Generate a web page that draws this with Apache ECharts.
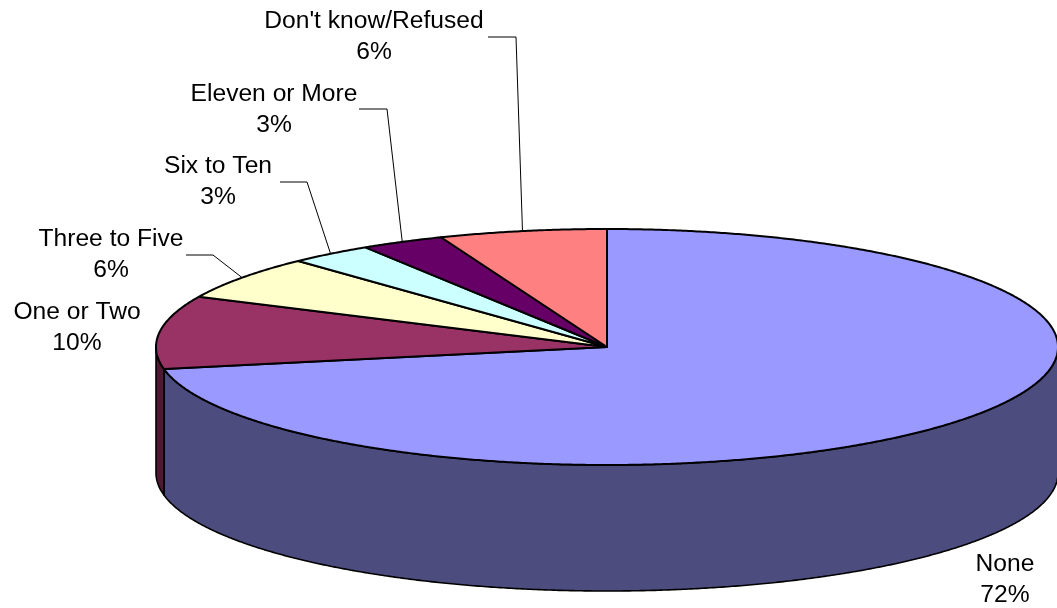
<!DOCTYPE html>
<html>
<head>
<meta charset="utf-8">
<script src="https://cdn.jsdelivr.net/npm/echarts@6/dist/echarts.min.js"></script>
<style>
  html, body { margin: 0; padding: 0; background: #ffffff; }
  #chart { width: 1057px; height: 608px; }
</style>
</head>
<body>
<div id="chart"></div>
<script>
// Number of answers given, share of respondents (%)
const categories = ['None', 'One or Two', 'Three to Five', 'Six to Ten', 'Eleven or More', "Don't know/Refused"];
const shares = [72, 10, 6, 3, 3, 6];

// Slice styling: top faces and the darker rim walls
const topColors  = ['#9999FF', '#993366', '#FFFFCC', '#CCFFFF', '#660066', '#FF8080'];
const sideColors = ['#4C4C7F', '#4D1933', '#80806A', '#668080', '#330033', '#804040'];

// Label block centres [x, y] and leader lines [lineStartX, elbowX, elbowY] (null = no leader)
const labelCenters = [[1005, 580], [77, 328], [111, 255], [218, 182], [274, 110], [374, 37]];
const leaderLines  = [null, null, [186, 213, 255], [280, 307, 182], [359, 387, 109], [488, 516, 37]];

// Disc geometry: ellipse centre, horizontal radius, vertical flattening and rim depth
const CX = 607, CY = 347, RX = 451, RY = 118, DEPTH = 126;
const FLAT = RY / RX;

// Cumulative spans [start, end, index] along the angle axis
const spans = [];
let acc = 0;
shares.forEach((v, i) => { spans.push([acc, acc + v, i]); acc += v; });
const total = acc;

// Project a point on the polar rim onto the tilted disc
function rimPoint(api, v, drop) {
  const p = api.coord([1, v]);
  const c = api.coord([0, 0]);
  return [p[0], c[1] + (p[1] - c[1]) * FLAT + drop];
}
function rimArc(api, a, b, drop) {
  const n = Math.max(2, Math.ceil(Math.abs(b - a) / 0.1));
  const pts = [];
  for (let k = 0; k <= n; k++) pts.push(rimPoint(api, a + (b - a) * k / n, drop));
  return pts;
}
function discCentre(api) {
  const c = api.coord([0, 0]);
  return [c[0], c[1]];
}

function renderWall(params, api) {
  const s = api.value(0), e = api.value(1), i = api.value(2);
  // only the front half of the rim (quarter to three quarters of the turn) faces the viewer
  const lo = Math.max(s, total * 0.25), hi = Math.min(e, total * 0.75);
  if (hi <= lo) return { type: 'group', children: [] };
  const pts = rimArc(api, lo, hi, 0).concat(rimArc(api, hi, lo, DEPTH));
  return {
    type: 'polygon',
    shape: { points: pts },
    style: { fill: sideColors[i], stroke: '#000', lineWidth: 1.6, lineJoin: 'round' }
  };
}

function renderTop(params, api) {
  const s = api.value(0), e = api.value(1), i = api.value(2);
  const pts = [discCentre(api)].concat(rimArc(api, s, e, 0));
  return {
    type: 'polygon',
    shape: { points: pts },
    style: { fill: topColors[i], stroke: '#000', lineWidth: 2, lineJoin: 'round' }
  };
}

function renderLabel(params, api) {
  const s = api.value(0), e = api.value(1), i = api.value(2);
  const children = [];
  const lead = leaderLines[i];
  if (lead) {
    const anchor = rimPoint(api, (s + e) / 2, 0);
    children.push({
      type: 'polyline',
      shape: { points: [anchor, [lead[1], lead[2]], [lead[0], lead[2]]] },
      style: { stroke: '#000', lineWidth: 1, fill: null }
    });
  }
  children.push({
    type: 'text',
    x: labelCenters[i][0],
    y: labelCenters[i][1],
    scaleX: 1.07,
    style: {
      text: categories[i] + '\n' + shares[i] + '%',
      fill: '#000',
      fontSize: 23,
      fontFamily: '"Liberation Sans", Arial, sans-serif',
      align: 'center',
      verticalAlign: 'middle',
      lineHeight: 31
    }
  });
  return { type: 'group', children: children };
}

const chart = echarts.init(document.getElementById('chart'), null, { renderer: 'canvas' });
chart.setOption({
  animation: false,
  backgroundColor: '#ffffff',
  polar: { center: [CX, CY], radius: RX },
  angleAxis: { type: 'value', min: 0, max: total, startAngle: 90, clockwise: true, show: false },
  radiusAxis: { type: 'value', min: 0, max: 1, show: false },
  series: [
    { type: 'custom', name: 'rim', coordinateSystem: 'polar', silent: true, z: 1,
      dimensions: ['start', 'end', 'index'], data: spans, renderItem: renderWall },
    { type: 'custom', name: 'top', coordinateSystem: 'polar', silent: true, z: 2,
      dimensions: ['start', 'end', 'index'], data: spans, renderItem: renderTop },
    { type: 'custom', name: 'labels', coordinateSystem: 'polar', silent: true, z: 3,
      dimensions: ['start', 'end', 'index'], data: spans, renderItem: renderLabel }
  ]
});
</script>
</body>
</html>
